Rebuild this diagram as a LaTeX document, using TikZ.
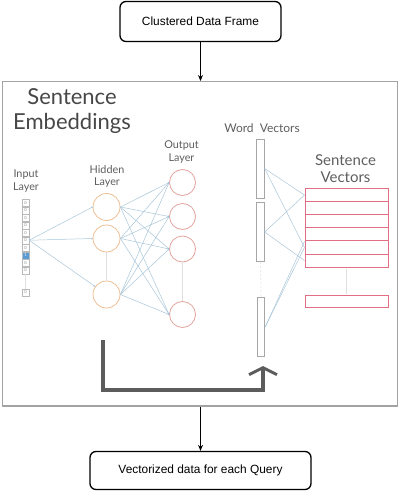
\documentclass[tikz,border=0pt]{standalone}
\usepackage{fontspec}
\setmainfont{Liberation Sans}
\newfontfamily\latofont{Lato}
\usetikzlibrary{arrows.meta}

\definecolor{linkblue}{HTML}{A9C6DA}
\definecolor{hidorange}{HTML}{EDBE92}
\definecolor{outred}{HTML}{E3A49E}
\definecolor{rowred}{HTML}{E06F83}
\definecolor{framegray}{HTML}{A3A3A3}
\definecolor{bigarrow}{HTML}{5C5C5C}
\definecolor{txtgray}{HTML}{5E5E5E}
\definecolor{onehot}{HTML}{5B9BD5}

\begin{document}
\begin{tikzpicture}
            [x=1pt,y=-1pt,
             flowbox/.style={draw,line width=1.3pt,rounded corners=6pt,font=\fontsize{11.9}{13}\selectfont},
             flowarrow/.style={-{Stealth[length=6pt,width=5pt]},line width=0.9pt},
             lbl/.style={text=txtgray,font=\latofont\fontsize{10.8}{12.5}\selectfont,align=center,inner sep=0},
             insq/.style={draw=gray!55,minimum size=7pt,inner sep=0,font=\latofont\fontsize{4}{4}\selectfont,text=gray},
             hid/.style={circle,draw=hidorange,line width=0.8pt,minimum size=27pt,inner sep=0},
             outc/.style={circle,draw=outred,line width=0.8pt,minimum size=26pt,inner sep=0},
             wbar/.style={draw=gray!70,line width=0.8pt,minimum width=7.5pt,minimum height=59pt,inner sep=0},
             srow/.style={draw=rowred,line width=1pt,minimum width=83pt,minimum height=13.1pt,inner sep=0},
             link/.style={linkblue,line width=0.5pt},
             dotlink/.style={link,-{Circle[length=1.6pt,fill=linkblue!80!blue]}},
             gap/.style={gray!25,line width=0.5pt}]
            \useasboundingbox (0,0) rectangle (401,492);
            % flow boxes
            \node[flowbox,minimum width=161pt,minimum height=40pt] (top) at (200.5,21.5) {Clustered Data Frame};
            \node[draw=framegray,line width=1.5pt,minimum width=395pt,minimum height=324pt,inner sep=0] (img) at (199.75,243.75) {};
            \node[flowbox,minimum width=221pt,minimum height=38pt] (bottom) at (200.5,470.5) {Vectorized data for each Query};
            \draw[flowarrow] (top.south) -- (top.south |- img.north);
            \draw[flowarrow] (top.south |- img.south) -- (bottom.north);
            % titles
            \node[lbl,text=black!72,font=\latofont\fontsize{22}{25}\selectfont] (title) at (72,111) {Sentence\\Embeddings};
            \node[lbl] (inlbl) at (26,181) {Input\\Layer};
            \node[lbl] (hidlbl) at (107,176.5) {Hidden\\Layer};
            \node[lbl] (outlbl) at (181.5,152) {Output\\Layer};
            \node[lbl,font=\latofont\fontsize{12}{13}\selectfont] (wlbl) at (262,128) {Word\ \ Vectors};
            \node[lbl,font=\latofont\fontsize{15}{17}\selectfont] (slbl) at (345.5,168.5) {Sentence\\Vectors};
            % input layer
            \foreach \i in {0,...,6,8,9}
                \node[insq] (i\i) at (25.5,202.75+7.5*\i) {0};
            \node[insq,fill=onehot,text=white] (i7) at (25.5,255.25) {1};
            \node[insq] (i10) at (25.5,292.5) {0};
            \draw[gap] (i9.south) -- (i10.north);
            % hidden and output layers
            \node[hid] (h1) at (106.5,207) {};
            \node[hid] (h2) at (106.5,238.5) {};
            \node[hid] (h3) at (106.5,294.5) {};
            \node[outc] (o1) at (182.5,182.5) {};
            \node[outc] (o2) at (182.5,216.5) {};
            \node[outc] (o3) at (182.5,249) {};
            \node[outc] (o4) at (182.5,314.5) {};
            \draw[gap] (h2.south) -- (h3.north);
            \draw[gap] (o3.south) -- (o4.north);
            % links
            \draw[dotlink] (i5.east) -- (h1.west);
            \draw[dotlink] (i5.east) -- (h2.west);
            \draw[dotlink] (i5.east) -- (h3.145);
            \foreach \h in {1,2,3}
                \foreach \o in {1,2,3,4}
                    \draw[dotlink] (h\h.east) -- (o\o.west);
            % word vectors
            \node[wbar] (w1) at (260.5,168.5) {};
            \node[wbar] (w2) at (260.5,232) {};
            \node[wbar] (w3) at (261,327) {};
            \draw[gap,dash pattern=on 2pt off 2pt] (w2.south) -- (w3.north);
            % sentence vectors
            \foreach \i in {1,...,6}
                \node[srow] (s\i) at (346.5,181.95+13.1*\i) {};
            \node[srow,minimum height=12pt] (s7) at (346.5,301.5) {};
            \draw[gap,shorten <=1.5pt,shorten >=1.5pt] (s6.south) -- (s7.north);
            \draw[link] (w1.east) -- (s1.west);
            \draw[link] (w1.east) -- (s5.west);
            \draw[link] (w2.east) -- (s1.west);
            \draw[link] (w2.east) -- (s6.west);
            \draw[link] (w3.east) -- (s5.west);
            \draw[link] (w3.east) -- (s4.south west);
            % big arrow
            \coordinate (a0) at (103,340);
            \coordinate (a1) at (263,366);
            \draw[bigarrow,line width=4pt,-{Straight Barb[length=7pt,width=28pt,line width=3pt]}] (a0) -- ++(0,50) -| (a1);
        \end{tikzpicture}
\end{document}
